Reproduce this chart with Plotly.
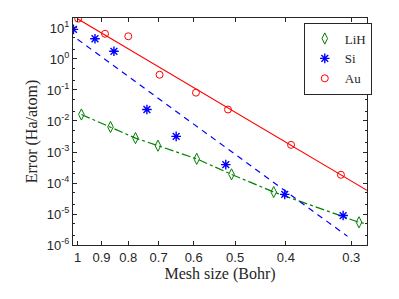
import plotly.graph_objects as go
import math

# ---- data ----
lih_x = [0.983, 0.865, 0.775, 0.702, 0.592, 0.508, 0.422, 0.290]
lih_y = [1.62e-2, 6.4e-3, 2.8e-3, 1.6e-3, 6.0e-4, 1.9e-4, 5.1e-5, 5.4e-6]
lih_line_x = [0.983, 0.865, 0.775, 0.702, 0.592, 0.508, 0.422, 0.290, 0.28]
lih_line_y = [1.62e-2, 6.4e-3, 2.8e-3, 1.6e-3, 6.0e-4, 1.9e-4, 5.1e-5, 5.4e-6, 4.8e-6]

si_x = [1.018, 0.926, 0.852, 0.737, 0.648, 0.521, 0.402, 0.311]
si_y = [9.0, 4.5, 1.77, 2.35e-2, 3.2e-3, 3.9e-4, 4.3e-5, 8.9e-6]
si_fit_x = [1.0, 0.305]
si_fit_y = [4.3, 1.9e-6]

au_x = [0.997, 0.886, 0.800, 0.697, 0.594, 0.516, 0.391, 0.314]
au_y = [20.0, 6.5, 5.4, 0.31, 8.2e-2, 2.35e-2, 1.7e-3, 1.84e-4]
au_fit_x = [1.0, 0.28]
au_fit_y = [20.0, 5.8e-5]

x_ticks = [1, 0.9, 0.8, 0.7, 0.6, 0.5, 0.4, 0.3]
x_ticktext = ["1", "0.9", "0.8", "0.7", "0.6", "0.5", "0.4", "0.3"]
y_ticks = [1e-6, 1e-5, 1e-4, 1e-3, 1e-2, 1e-1, 1e0, 1e1]
y_ticktext = ["10<sup>-6</sup>", "10<sup>-5</sup>", "10<sup>-4</sup>", "10<sup>-3</sup>",
              "10<sup>-2</sup>", "10<sup>-1</sup>", "10<sup>0</sup>", "10<sup>1</sup>"]
x_limits = [1.02, 0.28]
y_limits = [1e-6, 21]

GREEN = "rgb(0,128,0)"
BLUE = "rgb(0,0,255)"
RED = "rgb(255,0,0)"
AX = "#262626"
SERIF = "Liberation Serif, Times New Roman, serif"

fig = go.Figure()

# fit / guide lines
fig.add_trace(go.Scatter(x=lih_line_x, y=lih_line_y, mode="lines",
                         line=dict(color=GREEN, width=1.2, dash="dashdot"),
                         showlegend=False, hoverinfo="skip"))
fig.add_trace(go.Scatter(x=si_fit_x, y=si_fit_y, mode="lines",
                         line=dict(color=BLUE, width=1.2, dash="6px,5px"),
                         showlegend=False, hoverinfo="skip"))
fig.add_trace(go.Scatter(x=au_fit_x, y=au_fit_y, mode="lines",
                         line=dict(color=RED, width=1.2),
                         showlegend=False, hoverinfo="skip"))

# data markers
fig.add_trace(go.Scatter(x=lih_x, y=lih_y, mode="markers", name="LiH",
                         marker=dict(symbol="diamond-tall-open", size=8,
                                     color=GREEN, line=dict(width=1, color=GREEN))))
fig.add_trace(go.Scatter(x=si_x, y=si_y, mode="markers", name="Si",
                         marker=dict(symbol="asterisk-open", size=8,
                                     color=BLUE, line=dict(width=1.4, color=BLUE))))
fig.add_trace(go.Scatter(x=au_x, y=au_y, mode="markers", name="Au",
                         marker=dict(symbol="circle-open", size=7,
                                     color=RED, line=dict(width=1, color=RED))))

# page body has an 8px default margin, so the figure is drawn 8px in
fig.update_layout(
    width=391, height=291,
    margin=dict(l=65, r=32, t=10, b=54),
    paper_bgcolor="white", plot_bgcolor="white",
    font=dict(family="Liberation Sans, Arial, sans-serif", size=12, color=AX),
    showlegend=True,
    legend=dict(x=0.785, y=0.98, xanchor="left", yanchor="top",
                bgcolor="white", bordercolor=AX, borderwidth=1,
                font=dict(family=SERIF, size=13, color=AX),
                itemwidth=30, tracegroupgap=0),
    xaxis=dict(type="log", range=[math.log10(x_limits[0]), math.log10(x_limits[1])],
               tickvals=x_ticks, ticktext=x_ticktext, automargin=False,
               ticks="inside", ticklen=4, tickcolor=AX,
               showline=True, linecolor=AX, linewidth=1, mirror="ticks",
               showgrid=False, zeroline=False,
               tickfont=dict(size=13),
               title=dict(text="Mesh size (Bohr)", standoff=4,
                          font=dict(family=SERIF, size=16))),
    yaxis=dict(type="log", range=[math.log10(y_limits[0]), math.log10(y_limits[1])],
               tickvals=y_ticks, ticktext=y_ticktext, automargin=False,
               ticks="inside", ticklen=4, tickcolor=AX,
               minor=dict(ticks="inside", ticklen=2, tickcolor=AX, showgrid=False),
               showline=True, linecolor=AX, linewidth=1, mirror="ticks",
               showgrid=False, zeroline=False,
               tickfont=dict(size=13),
               title=dict(text="Error (Ha/atom)", standoff=5,
                          font=dict(family=SERIF, size=16))),
)

fig.write_html("out.html")
